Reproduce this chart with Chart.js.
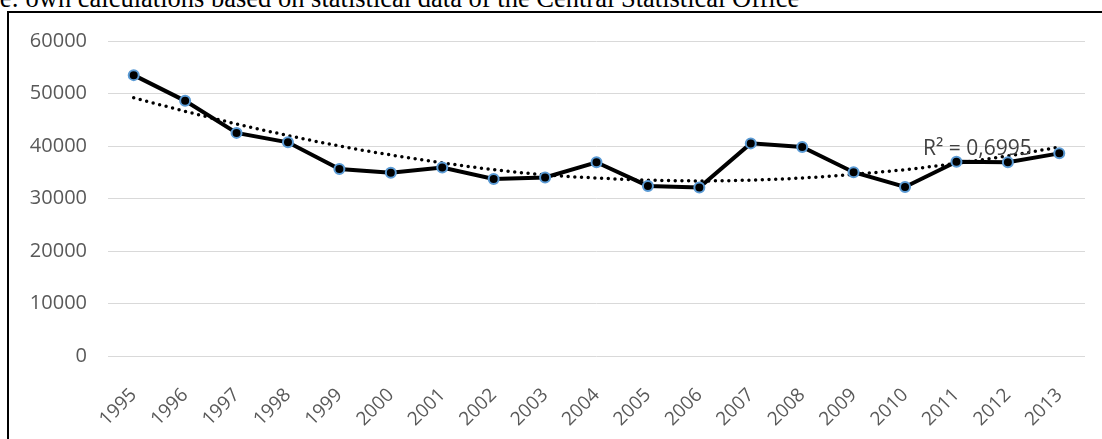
<!DOCTYPE html>
<html>
<head>
<meta charset="utf-8">
<script src="https://cdn.jsdelivr.net/npm/chart.js@4/dist/chart.umd.min.js"></script>
<style>
  html, body { margin: 0; padding: 0; background: #fff; overflow: hidden; }
  body { width: 1102px; height: 439px; position: relative; }
  #caption {
    position: absolute; left: 0; top: -15px; white-space: nowrap;
    font: 26.5px/26.5px "Liberation Serif", "Times New Roman", serif; color: #000;
  }
  #frame {
    position: absolute; left: 7px; top: 11px; width: 1200px; height: 500px;
    border: 2px solid #000;
  }
  #wrap { position: absolute; left: 0; top: 0; width: 1102px; height: 439px; }
</style>
</head>
<body>
<div id="caption"><span id="cut">Sourc</span>e: own calculations based on statistical data of the Central Statistical Office</div>
<div id="frame"></div>
<div id="wrap"><canvas id="chart" width="1102" height="439"></canvas></div>
<script>
/* Jahreswerte 1995–2013 mit Trendlinie (Polynom 2. Grades) */
const years = ['1995','1996','1997','1998','1999','2000','2001','2002','2003','2004',
               '2005','2006','2007','2008','2009','2010','2011','2012','2013'];
const values = [53500, 48600, 42500, 40700, 35600, 34900, 35900, 33700, 34000, 36900,
                32400, 32100, 40500, 39800, 35000, 32200, 37000, 36900, 38600];
const trend = [49200, 46600, 44200, 42000, 40000, 38300, 36800, 35500, 34500, 33900,
               33500, 33350, 33500, 33900, 34600, 35500, 36700, 38100, 39800];
const yTicks = [0, 10000, 20000, 30000, 40000, 50000, 60000];
const r2Label = 'R² = 0,6995';

/* Quelle-Zeile links abgeschnitten */
const cut = document.getElementById('cut');
cut.parentNode.style.left = (-cut.offsetWidth) + 'px';

const FONT = "'Open Sans', 'Liberation Sans', sans-serif";

const r2Plugin = {
  id: 'r2',
  afterDatasetsDraw(chart) {
    const { ctx, scales: { x, y } } = chart;
    ctx.save();
    ctx.font = `21px ${FONT}`;
    ctx.fillStyle = '#404040';
    ctx.textAlign = 'left';
    ctx.textBaseline = 'alphabetic';
    ctx.fillText(r2Label, x.getPixelForValue(15) + 18, y.getPixelForValue(38300));
    ctx.restore();
  }
};

new Chart(document.getElementById('chart'), {
  type: 'line',
  data: {
    labels: years,
    datasets: [
      {
        data: values, order: 0,
        borderColor: '#000', borderWidth: 4, tension: 0,
        pointRadius: 5, pointBorderWidth: 2,
        pointBackgroundColor: '#000', pointBorderColor: '#5b9bd5',
      },
      {
        data: trend, order: 1,
        borderColor: '#000', borderWidth: 3.5, borderDash: [0, 6.7], borderCapStyle: 'round',
        pointRadius: 0, tension: 0.4, cubicInterpolationMode: 'monotone',
      },
    ],
  },
  options: {
    responsive: false, animation: false,
    layout: { padding: { left: 27, right: 17, top: 41, bottom: 0 } },
    plugins: { legend: { display: false }, tooltip: { enabled: false } },
    scales: {
      x: {
        offset: true,
        grid: { display: false },
        border: { display: false },
        ticks: { color: '#595959', font: { family: FONT, size: 19 }, minRotation: 45, maxRotation: 45, padding: 20, autoSkip: false },
        afterFit(s) { s.height = 83; },
      },
      y: {
        min: 0, max: 60000,
        afterBuildTicks(s) { s.ticks = yTicks.map(v => ({ value: v })); },
        grid: { color: '#d9d9d9', lineWidth: 1, drawTicks: false },
        border: { display: false },
        ticks: { color: '#595959', font: { family: FONT, size: 20 }, padding: 21, callback: v => String(v) },
        afterFit(s) { s.width = 81; },
      },
    },
  },
  plugins: [r2Plugin],
});
</script>
</body>
</html>
